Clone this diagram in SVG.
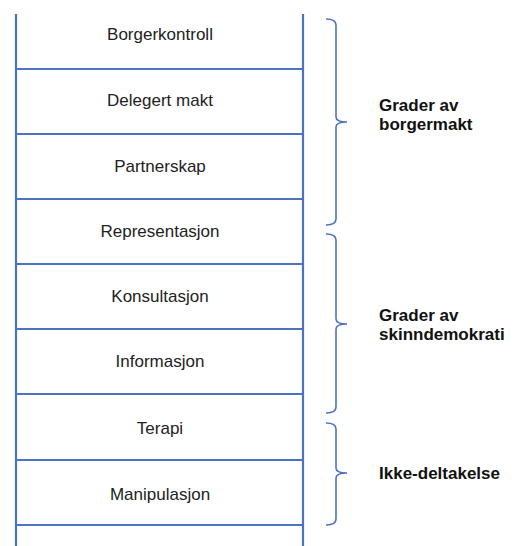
<svg xmlns="http://www.w3.org/2000/svg" width="516" height="546" viewBox="0 0 516 546">
<style>
.rail{stroke:#4c73bf;stroke-width:2.2;fill:none}
.brace{stroke:#4c73bf;stroke-width:1.6;fill:none}
.step{font-family:"Liberation Sans",Arial,sans-serif;font-size:17px;fill:#222;text-anchor:middle}
.grp{font-family:"Liberation Sans",Arial,sans-serif;font-size:17px;font-weight:bold;fill:#111}
</style>
<rect width="516" height="546" fill="#fff"/>
<g id="connectors">
<line class="rail" x1="16" y1="14" x2="16" y2="546"/>
<line class="rail" x1="303" y1="14" x2="303" y2="546"/>
<line class="rail" x1="16" y1="69" x2="303" y2="69"/>
<line class="rail" x1="16" y1="134" x2="303" y2="134"/>
<line class="rail" x1="16" y1="199" x2="303" y2="199"/>
<line class="rail" x1="16" y1="264" x2="303" y2="264"/>
<line class="rail" x1="16" y1="329" x2="303" y2="329"/>
<line class="rail" x1="16" y1="394" x2="303" y2="394"/>
<line class="rail" x1="16" y1="460" x2="303" y2="460"/>
<line class="rail" x1="16" y1="525" x2="303" y2="525"/>
</g>
<g id="step-borgerkontroll"><text class="step" x="160" y="40">Borgerkontroll</text></g>
<g id="step-delegert"><text class="step" x="160" y="106">Delegert makt</text></g>
<g id="step-partnerskap"><text class="step" x="160" y="172">Partnerskap</text></g>
<g id="step-representasjon"><text class="step" x="160" y="237">Representasjon</text></g>
<g id="step-konsultasjon"><text class="step" x="160" y="302">Konsultasjon</text></g>
<g id="step-informasjon"><text class="step" x="160" y="367">Informasjon</text></g>
<g id="step-terapi"><text class="step" x="160" y="434">Terapi</text></g>
<g id="step-manipulasjon"><text class="step" x="160" y="500">Manipulasjon</text></g>
<g id="group-borgermakt">
<path class="brace" d="M326,19 Q336,19 336,25 L336,117 Q336,122 347,122 Q336,122 336,127 L336,219 Q336,225 326,225"/>
<text class="grp" x="379" y="111">Grader av</text>
<text class="grp" x="379" y="130">borgermakt</text>
</g>
<g id="group-skinndemokrati">
<path class="brace" d="M326,234 Q336,234 336,240 L336,319 Q336,324 347,324 Q336,324 336,329 L336,407 Q336,413 326,413"/>
<text class="grp" x="379" y="321">Grader av</text>
<text class="grp" x="379" y="340">skinndemokrati</text>
</g>
<g id="group-ikke">
<path class="brace" d="M326,423 Q336,423 336,429 L336,468 Q336,473 347,473 Q336,473 336,478 L336,519 Q336,525 326,525"/>
<text class="grp" x="379" y="479">Ikke-deltakelse</text>
</g>
</svg>
